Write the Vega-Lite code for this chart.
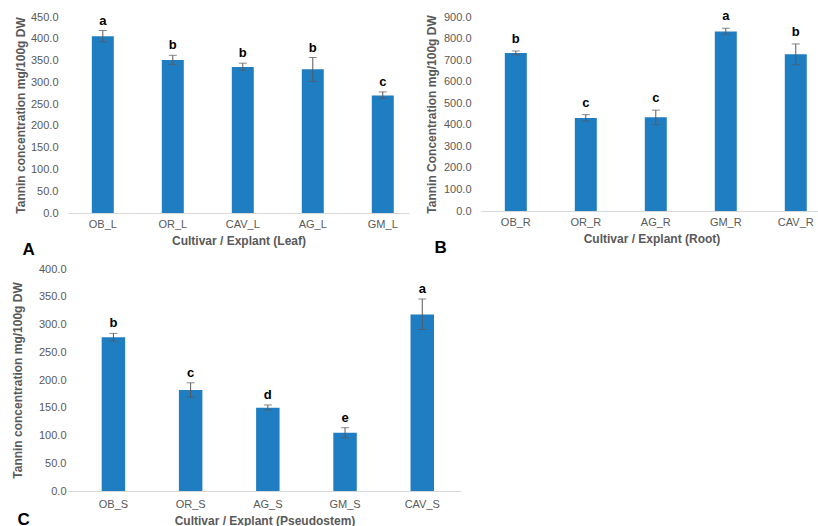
{
  "$schema": "https://vega.github.io/schema/vega-lite/v6.json",
  "background": "white",
  "padding": {"left": 11, "top": 10, "right": 0, "bottom": 0},
  "config": {
    "view": {"stroke": null},
    "font": "Liberation Sans",
    "axis": {"labelFont": "Liberation Sans", "labelFontSize": 11, "labelColor": "#595959", "titleFont": "Liberation Sans", "titleFontSize": 12, "titleFontWeight": "bold", "titleColor": "#595959", "grid": false, "ticks": false, "domainColor": "#d9d9d9", "labelOverlap": false},
    "axisY": {"domain": false, "format": ".1f", "labelPadding": 10, "titlePadding": 5},
    "axisX": {"labelAngle": 0, "labelPadding": 5, "titlePadding": 6},
    "title": {"font": "Liberation Sans", "fontSize": 17, "fontWeight": "bold", "color": "black", "orient": "bottom", "anchor": "start", "frame": "bounds"}
  },
  "datasets": {
    "leafData": [
      {"cultivar": "OB_L", "mean": 406, "lo": 393, "hi": 419, "letter": "a"},
      {"cultivar": "OR_L", "mean": 351, "lo": 341, "hi": 362, "letter": "b"},
      {"cultivar": "CAV_L", "mean": 335, "lo": 328, "hi": 344, "letter": "b"},
      {"cultivar": "AG_L", "mean": 330, "lo": 302, "hi": 357, "letter": "b"},
      {"cultivar": "GM_L", "mean": 270, "lo": 263, "hi": 278, "letter": "c"}
    ],
    "rootData": [
      {"cultivar": "OB_R", "mean": 733, "lo": 725, "hi": 742, "letter": "b"},
      {"cultivar": "OR_R", "mean": 431, "lo": 417, "hi": 447, "letter": "c"},
      {"cultivar": "AG_R", "mean": 435, "lo": 401, "hi": 468, "letter": "c"},
      {"cultivar": "GM_R", "mean": 833, "lo": 820, "hi": 848, "letter": "a"},
      {"cultivar": "CAV_R", "mean": 727, "lo": 679, "hi": 775, "letter": "b"}
    ],
    "stemData": [
      {"cultivar": "OB_S", "mean": 277, "lo": 270, "hi": 284, "letter": "b"},
      {"cultivar": "OR_S", "mean": 182, "lo": 169, "hi": 195, "letter": "c"},
      {"cultivar": "AG_S", "mean": 150, "lo": 146, "hi": 155, "letter": "d"},
      {"cultivar": "GM_S", "mean": 105, "lo": 96, "hi": 114, "letter": "e"},
      {"cultivar": "CAV_S", "mean": 318, "lo": 291, "hi": 346, "letter": "a"}
    ]
  },
  "columns": 1,
  "align": "none",
  "spacing": 5,
  "concat": [
    {
      "spacing": 16,
      "hconcat": [
        {
          "width": 341, "height": 196,
          "data": {"name": "leafData"},
          "title": {"text": "A", "offset": -4, "dx": 8},
          "encoding": {"x": {"field": "cultivar", "type": "nominal", "sort": null, "scale": {"paddingInner": 0.686, "paddingOuter": 0.279, "align": 0.61}, "axis": {"title": "Cultivar / Explant (Leaf)"}}},
          "layer": [
            {"mark": {"type": "bar", "color": "#1f7dc1"}, "encoding": {"y": {"field": "mean", "type": "quantitative", "title": "Tannin concentration mg/100g DW", "scale": {"domain": [0, 450], "nice": false}, "axis": {"values": [0, 50, 100, 150, 200, 250, 300, 350, 400, 450], "labelPadding": 10, "titlePadding": 3}}}},
            {"mark": {"type": "errorbar", "ticks": true, "color": "#595959", "thickness": 1, "size": 8}, "encoding": {"y": {"field": "lo", "type": "quantitative", "title": "Tannin concentration mg/100g DW", "scale": {"domain": [0, 450], "nice": false}, "axis": {"values": [0, 50, 100, 150, 200, 250, 300, 350, 400, 450], "labelPadding": 10, "titlePadding": 3}}, "y2": {"field": "hi"}}},
            {"mark": {"type": "text", "baseline": "bottom", "dy": -3, "fontWeight": "bold", "fontSize": 13, "color": "black"}, "encoding": {"y": {"field": "hi", "type": "quantitative", "title": "Tannin concentration mg/100g DW", "scale": {"domain": [0, 450], "nice": false}, "axis": {"values": [0, 50, 100, 150, 200, 250, 300, 350, 400, 450], "labelPadding": 10, "titlePadding": 3}}, "text": {"field": "letter"}}}
          ]
        },
        {
          "width": 341, "height": 194,
          "data": {"name": "rootData"},
          "title": {"text": "B", "offset": -4, "dx": 9},
          "encoding": {"x": {"field": "cultivar", "type": "nominal", "sort": null, "scale": {"paddingInner": 0.686, "paddingOuter": 0.279, "align": 0.61}, "axis": {"title": "Cultivar / Explant (Root)"}}},
          "layer": [
            {"mark": {"type": "bar", "color": "#1f7dc1"}, "encoding": {"y": {"field": "mean", "type": "quantitative", "title": "Tannin Concentration mg/100g DW", "scale": {"domain": [0, 900], "nice": false}, "axis": {"values": [0, 100, 200, 300, 400, 500, 600, 700, 800, 900]}}}},
            {"mark": {"type": "errorbar", "ticks": true, "color": "#595959", "thickness": 1, "size": 8}, "encoding": {"y": {"field": "lo", "type": "quantitative", "title": "Tannin Concentration mg/100g DW", "scale": {"domain": [0, 900], "nice": false}, "axis": {"values": [0, 100, 200, 300, 400, 500, 600, 700, 800, 900]}}, "y2": {"field": "hi"}}},
            {"mark": {"type": "text", "baseline": "bottom", "dy": -5, "fontWeight": "bold", "fontSize": 13, "color": "black"}, "encoding": {"y": {"field": "hi", "type": "quantitative", "title": "Tannin Concentration mg/100g DW", "scale": {"domain": [0, 900], "nice": false}, "axis": {"values": [0, 100, 200, 300, 400, 500, 600, 700, 800, 900]}}, "text": {"field": "letter"}}}
          ]
        }
      ]
    },
    {
      "spacing": 16,
      "hconcat": [
        {
          "width": 393, "height": 222,
          "data": {"name": "stemData"},
          "title": {"text": "C", "offset": -14, "dx": 6},
          "encoding": {"x": {"field": "cultivar", "type": "nominal", "sort": null, "scale": {"paddingInner": 0.696, "paddingOuter": 0.393, "align": 0.555}, "axis": {"title": "Cultivar / Explant (Pseudostem)", "labelPadding": 7}}},
          "layer": [
            {"mark": {"type": "bar", "color": "#1f7dc1"}, "encoding": {"y": {"field": "mean", "type": "quantitative", "title": "Tannin concentration mg/100g DW", "scale": {"domain": [0, 400], "nice": false}, "axis": {"values": [0, 50, 100, 150, 200, 250, 300, 350, 400], "titlePadding": 14, "labelPadding": 2}}}},
            {"mark": {"type": "errorbar", "ticks": true, "color": "#595959", "thickness": 1, "size": 8}, "encoding": {"y": {"field": "lo", "type": "quantitative", "title": "Tannin concentration mg/100g DW", "scale": {"domain": [0, 400], "nice": false}, "axis": {"values": [0, 50, 100, 150, 200, 250, 300, 350, 400], "titlePadding": 14, "labelPadding": 2}}, "y2": {"field": "hi"}}},
            {"mark": {"type": "text", "baseline": "bottom", "dy": -3, "fontWeight": "bold", "fontSize": 13, "color": "black"}, "encoding": {"y": {"field": "hi", "type": "quantitative", "title": "Tannin concentration mg/100g DW", "scale": {"domain": [0, 400], "nice": false}, "axis": {"values": [0, 50, 100, 150, 200, 250, 300, 350, 400], "titlePadding": 14, "labelPadding": 2}}, "text": {"field": "letter"}}}
          ]
        }
      ]
    }
  ]
}
